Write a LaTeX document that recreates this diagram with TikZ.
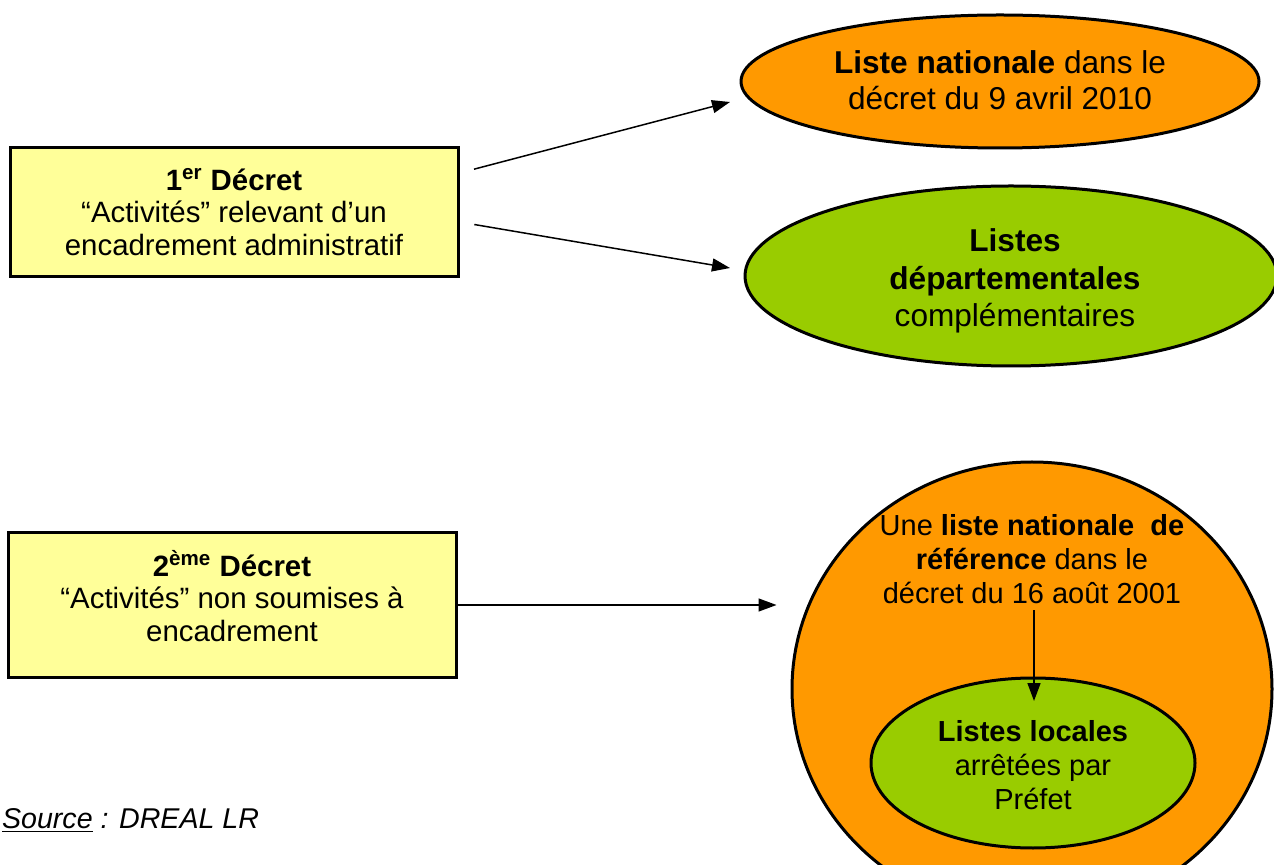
\documentclass[tikz,border=0pt]{standalone}
\usepackage{fontspec}
\setmainfont{Liberation Sans}
\usetikzlibrary{arrows.meta,shapes.geometric}
\definecolor{boxyellow}{HTML}{FFFF99}
\definecolor{listorange}{HTML}{FF9900}
\definecolor{listgreen}{HTML}{99CC00}

\begin{document}
\begin{tikzpicture}[x=0.5pt,y=-0.5pt,
    decret/.style={draw,line width=1.5pt,fill=boxyellow,minimum width=224pt},
    boxtxt/.style={align=center,font=\fontsize{14.7}{16.3}\selectfont},
    liste/.style={draw,line width=1.5pt,ellipse,inner sep=0pt},
    txt/.style={align=center,font=\fontsize{15.8}{17.8}\selectfont},
    bigtxt/.style={align=center,font=\fontsize{15.8}{18.6}\selectfont},
    smalltxt/.style={align=center,font=\fontsize{14.5}{17}\selectfont},
    arr/.style={-{Triangle[length=9pt,width=6.5pt]},line width=0.75pt}]
\useasboundingbox (0,0) rectangle (1274,865);

% first decree and its two lists
\node[decret,boxtxt,minimum height=64.5pt] (dec1) at (234,212)
    {\textbf{1\textsuperscript{er} Décret}\\
     “Activités” relevant d’un\\
     encadrement administratif};
\node[liste,fill=listorange,minimum width=259pt,minimum height=66.5pt] (natl) at (1000,81.5) {};
\node[txt] (natltxt) at (1000,80) {\textbf{Liste nationale} dans le\\décret du 9 avril 2010};
\node[liste,fill=listgreen,minimum width=266pt,minimum height=90pt] (dept) at (1011,276) {};
\node[bigtxt] (depttxt) at (1015,281) {\textbf{Listes}\\\textbf{départementales}\\complémentaires};
\coordinate (natlin) at (730,102);
\coordinate (deptin) at (730,268);
\draw[arr,shorten <=7.5pt] ([yshift=19.5pt]dec1.east) -- (natlin);
\draw[arr,shorten <=7.5pt] ([yshift=-5pt]dec1.east) -- (deptin);

% second decree
\node[decret,minimum height=72pt] (dec2) at (232,605) {};
\node[boxtxt] (dec2txt) at (232,596)
    {\textbf{2\textsuperscript{ème} Décret}\\
     “Activités” non soumises à\\
     encadrement};
\node[liste,fill=listorange,minimum width=240pt,minimum height=227pt] (ref) at (1032,689) {};
\node[smalltxt] (reftxt) at (1032,559)
    {Une \textbf{liste nationale\ \ de}\\\textbf{référence} dans le\\décret du 16 août 2001};
\node[liste,fill=listgreen,minimum width=162pt,minimum height=85pt] (local) at (1033,763) {};
\node[smalltxt] (localtxt) at (1033,765) {\textbf{Listes locales}\\arrêtées par\\Préfet};
\coordinate (localin) at (1034,701);
\draw[arr] (1034,610) -- (localin);
\draw[arr,shorten >=7pt] (dec2.east) -- (dec2.east -| ref.west);

\node[anchor=base west,font=\fontsize{14.3}{16}\selectfont\itshape] (src) at (-5,828)
    {\underline{Source} : DREAL LR};
\end{tikzpicture}
\end{document}
